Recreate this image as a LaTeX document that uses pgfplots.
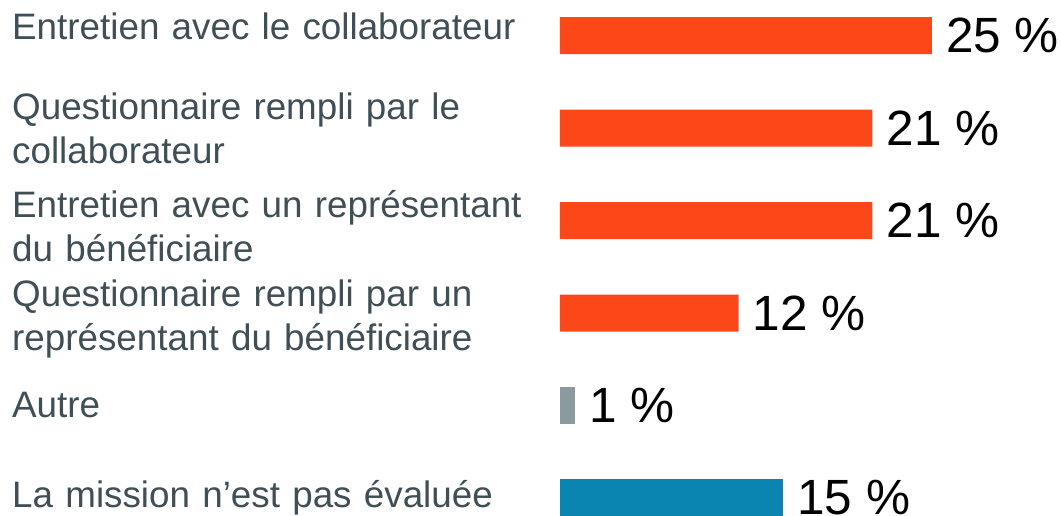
\documentclass[border=0pt]{standalone}
\usepackage{pgfplots}
\pgfplotsset{compat=1.18}
\usepackage{fontspec}
\setmainfont{Liberation Sans}
\definecolor{barorange}{HTML}{FC4819}
\definecolor{bargray}{HTML}{8A9BA0}
\definecolor{barblue}{HTML}{0A85B2}
\definecolor{labeltext}{HTML}{3F4F55}
\begin{document}
\begin{tikzpicture}
\begin{axis}[
  at={(560pt,-28.2pt)}, anchor=south west,
  scale only axis, width=505.92pt, height=554.76pt,
  xmin=0, xmax=34, ymin=-0.5, ymax=5.5, y dir=reverse,
  xbar, bar width=37pt,
  axis line style={draw=none}, major tick length=0pt,
  xtick=\empty, ytick={0,1,2,3,4,5},
  yticklabels={{\raisebox{9pt}[\height][\depth]{Entretien avec le collaborateur}},
    {Questionnaire rempli par le\\collaborateur},
    {\rule{0pt}{38pt}Entretien avec un représentant\\du bénéficiaire},
    {\rule{0pt}{39pt}Questionnaire rempli par un\\représentant du bénéficiaire},
    {Autre},
    {La mission n’est pas évaluée}},
  yticklabel style={anchor=west, xshift=-548pt, text width=530pt, align=left,
    inner sep=0pt, text=labeltext, font=\fontsize{36.8}{44}\selectfont},
  /pgf/number format/assume math mode=true,
  nodes near coords={\pgfmathprintnumber{\pgfplotspointmeta} \%},
  nodes near coords style={anchor=west, inner sep=0pt, xshift=14pt, text=black,
    font=\fontsize{49.5}{58}\selectfont},
  clip=false,
]
\addplot[fill=barorange, draw=none, bar shift=0pt] coordinates {(25,0) (21,1) (21,2) (12,3)};
\addplot[fill=bargray, draw=none, bar shift=0pt] coordinates {(1,4)};
\addplot[fill=barblue, draw=none, bar shift=0pt] coordinates {(15,5)};
\end{axis}
\pgfresetboundingbox
\path (0pt,0pt) rectangle (1061pt,516pt);
\end{tikzpicture}
\end{document}
